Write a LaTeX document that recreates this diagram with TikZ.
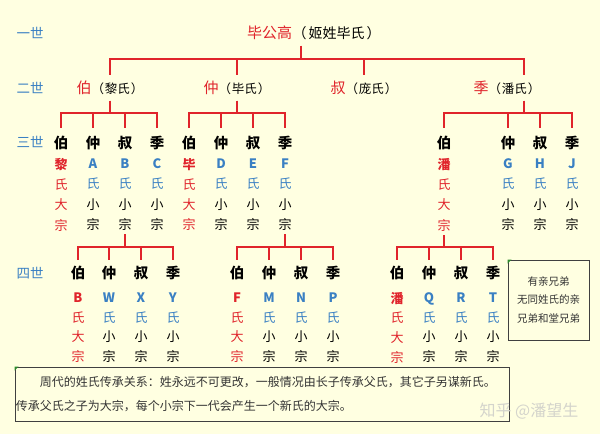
\documentclass[tikz,border=0pt]{standalone}
\usepackage{fontspec}
\setmainfont{Noto Sans CJK SC}
\usetikzlibrary{positioning}

\definecolor{paper}{HTML}{FFFFE1}
\definecolor{zred}{HTML}{E0242B}
\definecolor{zblue}{HTML}{3A80C3}
\definecolor{frame}{HTML}{404040}
\definecolor{notetext}{HTML}{333333}
\definecolor{markgreen}{HTML}{2E8B2E}
\definecolor{wm}{HTML}{D4D4CC}

% one column of a generation: surname letter, 氏, 大/小, 宗
\newcommand\dazong[1]{\textcolor{zred}{\textbf{#1}}\\\textcolor{zred}{氏}\\\textcolor{zred}{大}\\\textcolor{zred}{宗}}
\newcommand\xiaozong[1]{\textcolor{zblue}{\textbf{#1}}\\\textcolor{zblue}{氏}\\小\\宗}
\newcommand\branch[2]{\textcolor{zred}{\fontsize{15}{15}\selectfont #1}（\kern1pt#2\kern1pt）}

\tikzset{
  lineage/.style={draw=zred, line width=1.5pt},
  genlabel/.style={text=zblue, inner sep=0pt, font=\fontsize{13.5}{13.5}\selectfont},
  son/.style={inner sep=0pt, outer ysep=8pt, font=\fontsize{14.5}{14.5}\selectfont\bfseries},
  son4/.style={son, outer ysep=6pt},
  clan/.style={inner sep=0pt, outer ysep=6pt, font=\fontsize{12.5}{12.5}\selectfont},
  stack/.style={inner sep=0pt, outer ysep=4pt, align=center, font=\fontsize{13}{20.3}\selectfont},
  stack4/.style={stack, font=\fontsize{13}{19.7}\selectfont},
  note/.style={draw=frame, line width=0.8pt, text=notetext}
}

\begin{document}
\begin{tikzpicture}[x=1pt, y=-1pt]
  \fill[paper] (0,0) rectangle (600,434);
  \useasboundingbox (0,0) rectangle (600,434);

  % generations
  \node[genlabel] (l1) at (30,33)  {一世};
  \node[genlabel] (l2) at (30,88)  {二世};
  \node[genlabel] (l3) at (30,142) {三世};
  \node[genlabel] (l4) at (30,273) {四世};

  % 一世
  \node[inner sep=0pt, anchor=west, text=zred, font=\fontsize{15}{15}\selectfont] (gen1) at (247,33) {毕公高};
  \node[clan, right=0pt of gen1, font=\fontsize{14}{14}\selectfont] (gen1clan) {（\kern2pt姬姓毕氏\kern2pt）};

  % 二世
  \node[clan] (g2a) at (110,88) {\branch{伯}{黎氏}};
  \node[clan] (g2b) at (237,88) {\branch{仲}{毕氏}};
  \node[clan] (g2c) at (364,88) {\branch{叔}{庞氏}};
  \node[clan] (g2d) at (507,88) {\branch{季}{潘氏}};

  % 三世
  \foreach \x/\n/\h in {61/1/伯, 93/2/仲, 125/3/叔, 157/4/季, 189/5/伯, 221/6/仲,
                        253/7/叔, 285/8/季, 444/9/伯, 508/10/仲, 540/11/叔, 572/12/季}
    \node[son] (c3-\n) at (\x,143) {\h};
  \foreach \x/\n/\txt in {61/1/\dazong{黎}, 93/2/\xiaozong{A}, 125/3/\xiaozong{B},
                          157/4/\xiaozong{C}, 189/5/\dazong{毕}, 221/6/\xiaozong{D},
                          253/7/\xiaozong{E}, 285/8/\xiaozong{F}, 444/9/\dazong{潘},
                          508/10/\xiaozong{G}, 540/11/\xiaozong{H}, 572/12/\xiaozong{J}}
    \node[stack] (s3-\n) at (\x,194.5) {\txt};

  % 四世
  \foreach \x/\n/\h in {78/1/伯, 109/2/仲, 141/3/叔, 173/4/季, 237/5/伯, 269/6/仲,
                        301/7/叔, 333/8/季, 397/9/伯, 429/10/仲, 461/11/叔, 493/12/季}
    \node[son4] (c4-\n) at (\x,273) {\h};
  \foreach \x/\n/\txt in {78/1/\dazong{B}, 109/2/\xiaozong{W}, 141/3/\xiaozong{X},
                          173/4/\xiaozong{Y}, 237/5/\dazong{F}, 269/6/\xiaozong{M},
                          301/7/\xiaozong{N}, 333/8/\xiaozong{P}, 397/9/\dazong{潘},
                          429/10/\xiaozong{Q}, 461/11/\xiaozong{R}, 493/12/\xiaozong{T}}
    \node[stack4] (s4-\n) at (\x,327.5) {\txt};

  % family lines
  \coordinate (j1) at (301,59);
  \coordinate (bar2) at (0,113);
  \coordinate (bar3) at (0,247);
  \draw[lineage] (gen1clan.south -| j1) -- (j1);
  \foreach \c in {g2a, g2b, g2c}
    \draw[lineage] (j1) -| (\c.north);
  \draw[lineage] (j1) -| ([xshift=17pt]g2d.north);

  \foreach \p/\a/\b in {g2a/1/4, g2b/5/8}
    \foreach \k in {\a,...,\b}
      \draw[lineage] (\p.south) |- (c3-\k.north |- bar2) -- (c3-\k.north);
  \foreach \k in {9,...,12}
    \draw[lineage] ([xshift=17pt]g2d.south) |- (c3-\k.north |- bar2) -- (c3-\k.north);

  \foreach \p/\a/\b in {s3-3/1/4, s3-8/5/8, s3-9/9/12}
    \foreach \k in {\a,...,\b}
      \draw[lineage] (\p.south) |- (c4-\k.north |- bar3) -- (c4-\k.north);

  % notes
  \node[note, align=center, minimum width=81pt, minimum height=80pt, inner sep=0pt,
        font=\fontsize{10.5}{18.5}\selectfont] (kin) at (548.5,300)
    {有亲兄弟\\无同姓氏的亲\\兄弟和堂兄弟};
  \node[note, align=left, text width=492pt, inner xsep=1pt, inner ysep=0pt,
        minimum height=54pt, font=\fontsize{12}{24}\selectfont] (summary) at (262,394)
    {\hspace*{2em}周代的姓氏传承关系：姓永远不可更改，一般情况由长子传承父氏，其它子另谋新氏。\\
     传承父氏之子为大宗，每个小宗下一代会产生一个新氏的大宗。};
  \fill[markgreen] (kin.north west) -- ++(4,0) -- ++(-4,4) -- cycle;
  \fill[markgreen] (summary.north west) -- ++(4,0) -- ++(-4,4) -- cycle;

  \node[text=wm, inner sep=0pt, font=\fontsize{16}{16}\selectfont] (mark) at (529,411) {知乎 @潘望生};
\end{tikzpicture}
\end{document}
